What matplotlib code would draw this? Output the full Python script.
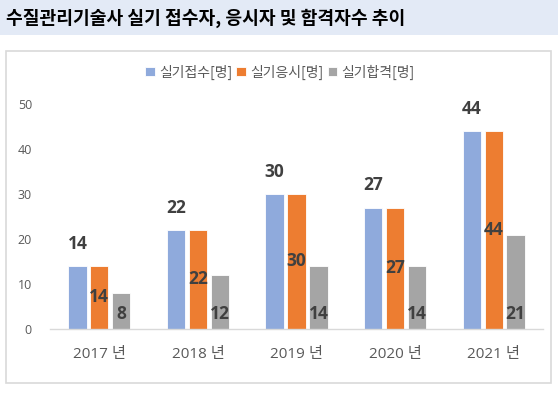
import numpy as np
import matplotlib.pyplot as plt
from matplotlib.patches import Rectangle

plt.rcParams['font.family'] = ['Noto Sans CJK KR', 'DejaVu Sans']

# 데이터
years = ['2017 년', '2018 년', '2019 년', '2020 년', '2021 년']
접수 = [14, 22, 30, 27, 44]
응시 = [14, 22, 30, 27, 44]
합격 = [8, 12, 14, 14, 21]
series_names = ['실기접수[명]', '실기응시[명]', '실기합격[명]']

colors = ['#8FAADC', '#ED7D31', '#A5A5A5']
label_color = '#404040'
axis_text = '#595959'
num_font = ['Open Sans', 'Noto Sans CJK KR']

fig = plt.figure(figsize=(5.58, 3.93), dpi=100)

# 제목 띠
fig.patches.append(Rectangle((0, 1 - 35/393), 1, 35/393, transform=fig.transFigure,
                             facecolor='#E3EAF6', edgecolor='none', zorder=-10))
fig.text(6/558, 1 - 18/393, '수질관리기술사 실기 접수자, 응시자 및 합격자수 추이',
         fontsize=13.1, fontweight='bold', color='black', va='center', ha='left')

# 차트 테두리
fig.patches.append(Rectangle((6/558, 10/393), 545/558, 332/393, transform=fig.transFigure,
                             facecolor='white', edgecolor='#D9D9D9', linewidth=1.2, zorder=-10))

ax = fig.add_axes([50/558, 64/393, 493/558, 225/393])
ax.set_facecolor('none')
ax.set_zorder(5)

x = np.arange(len(years))
w = 0.185
step = 0.222
bars = []
for i, (vals, c, name) in enumerate(zip([접수, 응시, 합격], colors, series_names)):
    b = ax.bar(x + (i - 1) * step, vals, width=w, color=c, edgecolor='white',
               linewidth=0.6, label=name, zorder=2)
    bars.append(b)

# 값 레이블
lab = dict(ha='center', va='center', fontsize=12.5, fontweight='bold',
           color=label_color, family=num_font)
for rect, v in zip(bars[0], 접수):
    ax.annotate(str(v), (rect.get_x() + rect.get_width()/2, v), xytext=(0, 16),
                textcoords='offset points', **lab)
for rect, v in zip(bars[1], 응시):
    ax.annotate(str(v), (rect.get_x() + rect.get_width()/2, v/2), **lab)
for rect, v in zip(bars[2], 합격):
    ax.annotate(str(v), (rect.get_x() + rect.get_width()/2, 0), xytext=(0, 11),
                textcoords='offset points', **lab)

ax.set_xlim(-0.5, len(years) - 0.5)
ax.set_ylim(0, 50)
ax.set_yticks(np.arange(0, 51, 10))
ax.set_xticks(x)
ax.set_xticklabels(years, family=num_font)
for t in ax.get_yticklabels():
    t.set_family(num_font)
ax.tick_params(axis='x', length=0, pad=13, labelsize=11, labelcolor=axis_text)
ax.tick_params(axis='y', length=0, pad=13, labelsize=9, labelcolor=axis_text)
for s in ['top', 'right', 'left']:
    ax.spines[s].set_visible(False)
ax.spines['bottom'].set_color('#D9D9D9')
ax.spines['bottom'].set_linewidth(1)

fig.legend(handles=bars, labels=series_names, loc='center', bbox_to_anchor=(280/558, 1 - 72/393),
           ncol=3, frameon=False, fontsize=10, handlelength=0.7, handleheight=0.7,
           handletextpad=0.3, columnspacing=0.3, labelcolor=axis_text)

fig.savefig('out.png', dpi=100)
